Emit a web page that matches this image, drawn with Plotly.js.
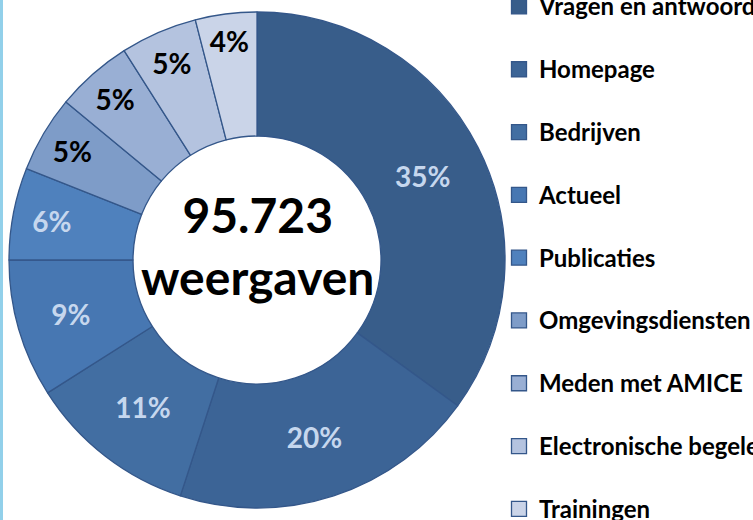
<!DOCTYPE html>
<html>
<head>
<meta charset="utf-8">
<script src="https://cdn.plot.ly/plotly-3.0.1.min.js"></script>
<style>
  html, body { margin: 0; padding: 0; background: #ffffff; }
  #chart { width: 753px; height: 520px; }
</style>
</head>
<body>
<div id="chart"></div>
<script>
// Categories (clockwise from 12 o'clock) and their share of page views (%)
const categories = [
  "Vragen en antwoorden",
  "Homepage",
  "Bedrijven",
  "Actueel",
  "Publicaties",
  "Omgevingsdiensten",
  "Meden met AMICE",
  "Electronische begeleiding",
  "Trainingen"
];
const shares = [35, 20, 11, 9, 6, 5, 5, 5, 4];
const totalViews = "95.723";
const totalLabel = "weergaven";

const sliceColors = [
  "#385D8A", "#3C6496", "#426EA2", "#4777B2", "#4F81BD",
  "#7E9CC8", "#99AFD4", "#B4C3DF", "#CAD4E8"
];
const labelColors = [
  "#C6D7EE", "#C6D7EE", "#C6D7EE", "#C6D7EE", "#C6D7EE",
  "#000000", "#000000", "#000000", "#000000"
];

const W = 753, H = 520;
const cx = 257, cy = 260, R = 248;

const legendLabels = categories.map(c =>
  "<span style='font-size:24px'>" + c + "</span><br>&nbsp;");

const trace = {
  type: "pie",
  labels: legendLabels,
  values: shares,
  sort: false,
  direction: "clockwise",
  rotation: 0,
  hole: 0.5,
  marker: { colors: sliceColors, line: { color: "#34578A", width: 1.3 } },
  textinfo: "percent",
  textposition: "inside",
  insidetextorientation: "horizontal",
  textfont: { family: "Lato", size: 28, weight: "bold", color: labelColors },
  hoverinfo: "skip",
  domain: { x: [(cx - R) / W, (cx + R) / W], y: [(H - cy - R) / H, (H - cy + R) / H] }
};

const layout = {
  width: W,
  height: H,
  margin: { l: 0, r: 0, t: 0, b: 0, autoexpand: false },
  paper_bgcolor: "#ffffff",
  showlegend: true,
  legend: {
    x: 499 / W, xanchor: "left",
    y: 0.475, yanchor: "middle",
    valign: "top",
    bgcolor: "rgba(0,0,0,0)",
    font: { family: "Lato", size: 23, weight: "bold", color: "#000000" },
    itemwidth: 30,
    maxheight: 2000
  },
  annotations: [{
    x: cx / W, y: (H - cy + 15) / H, xref: "paper", yref: "paper",
    xanchor: "center", yanchor: "middle",
    text: totalViews + "<br>" + totalLabel,
    showarrow: false,
    font: { family: "Lato", size: 48, weight: "bold", color: "#000000" }
  }],
  shapes: [{
    type: "rect", xref: "paper", yref: "paper",
    x0: 0, x1: 3 / W, y0: 0, y1: 1,
    fillcolor: "#92D0EA", line: { width: 0 }, layer: "above"
  }]
};

Plotly.newPlot("chart", [trace], layout, { displayModeBar: false, staticPlot: true }).then(gd => {
  // slightly larger legend swatches, as in the original
  gd.querySelectorAll("path.legendpie").forEach(p => p.setAttribute("d", "M7.5,7.5H-7.5V-7.5H7.5Z"));
});
</script>
</body>
</html>
